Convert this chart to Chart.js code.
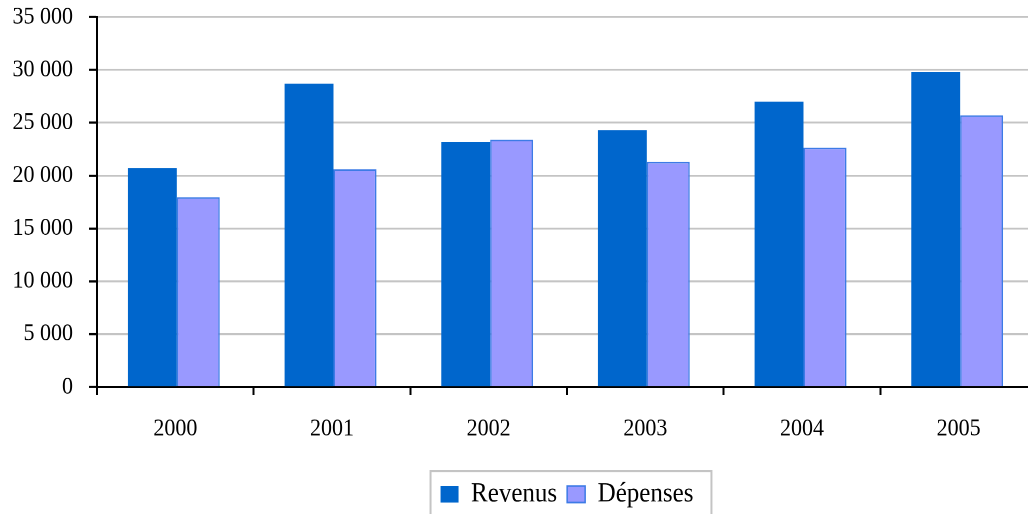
<!DOCTYPE html>
<html>
<head>
<meta charset="utf-8">
<script src="https://cdn.jsdelivr.net/npm/chart.js@4/dist/chart.umd.min.js"></script>
<style>
  html, body { margin: 0; padding: 0; background: #fff; overflow: hidden; }
  /* the reference is slightly stretched vertically: draw at 472px, show at 519px */
  #chart { width: 1040px !important; height: 519.2px !important; }
</style>
</head>
<body>
<canvas id="chart" width="1040" height="472"></canvas>
<script>
const years = ['2000', '2001', '2002', '2003', '2004', '2005'];
const revenus = [20700, 28700, 23200, 24300, 27000, 29800];
const depenses = [17950, 20600, 23400, 21300, 22650, 25700];
const yMax = 35000;
const yStep = 5000;

function formatThousands(v) {
    return String(v).replace(/\B(?=(\d{3})+(?!\d))/g, ' ');
}

// grey frame round the legend items
const legendFrame = {
    id: 'legendFrame',
    afterDraw(chart) {
        const boxes = chart.legend && chart.legend.legendHitBoxes;
        if (!boxes || !boxes.length) return;
        const first = boxes[0];
        const last = boxes[boxes.length - 1];
        const ctx = chart.ctx;
        const cy = first.top + first.height / 2;
        ctx.save();
        ctx.strokeStyle = '#c4c4c4';
        ctx.lineWidth = 2;
        ctx.strokeRect(first.left - 10, cy - 21, last.left + last.width - first.left + 28, 80);
        ctx.restore();
    }
};

Chart.defaults.font.family = "'Liberation Serif', 'Times New Roman', serif";
Chart.defaults.color = '#000';

new Chart(document.getElementById('chart'), {
    type: 'bar',
    data: {
        labels: years,
        datasets: [
            {
                label: 'Revenus',
                data: revenus,
                backgroundColor: '#0066CC',
                borderWidth: 0,
                categoryPercentage: 0.586,
                barPercentage: 1.065
            },
            {
                label: 'Dépenses',
                data: depenses,
                backgroundColor: '#9999FF',
                borderColor: '#3d7be6',
                borderWidth: 1.5,
                categoryPercentage: 0.586,
                barPercentage: 0.935
            }
        ]
    },
    options: {
        responsive: false,
        devicePixelRatio: 2,
        animation: false,
        layout: { padding: { top: 15.5, right: 3, bottom: 0, left: 0 } },
        plugins: {
            tooltip: { enabled: false },
            legend: {
                position: 'bottom',
                fullSize: false,
                labels: {
                    font: { size: 25 },
                    boxWidth: 18,
                    boxHeight: 15,
                    padding: 10,
                    color: '#000'
                }
            }
        },
        scales: {
            x: {
                grid: {
                    drawOnChartArea: false,
                    drawTicks: true,
                    tickLength: 7,
                    tickColor: '#000',
                    tickWidth: 2
                },
                border: { color: '#000', width: 2 },
                ticks: { font: { size: 22 }, padding: 18, color: '#000' },
                afterFit(scale) { scale.height = 75; }
            },
            y: {
                min: 0,
                max: yMax,
                grid: {
                    color: '#c4c4c4',
                    lineWidth: 1.8,
                    tickLength: 8,
                    tickColor: '#000',
                    tickWidth: 2
                },
                border: { color: '#000', width: 2 },
                ticks: {
                    stepSize: yStep,
                    font: { size: 22 },
                    padding: 16,
                    color: '#000',
                    callback: (v) => formatThousands(v)
                },
                afterFit(scale) {
                    scale.width = 97;
                    scale.paddingTop = 0;
                    scale.paddingBottom = 0;
                }
            }
        }
    },
    plugins: [legendFrame]
});
</script>
</body>
</html>
